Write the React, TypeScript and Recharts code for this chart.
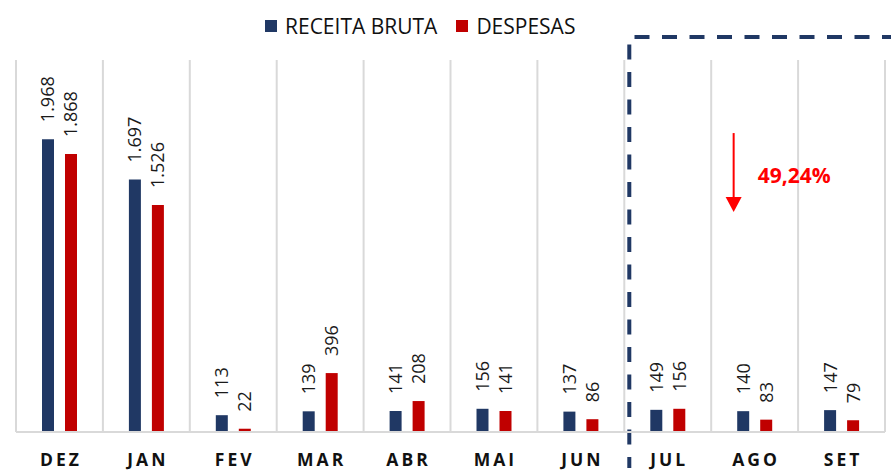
import React from 'react';
import {
  BarChart,
  Bar,
  XAxis,
  YAxis,
  CartesianGrid,
  LabelList,
  Legend,
  ReferenceArea,
  ReferenceLine,
} from 'recharts';

const months = ['DEZ', 'JAN', 'FEV', 'MAR', 'ABR', 'MAI', 'JUN', 'JUL', 'AGO', 'SET'];
const receitaBruta = [1968, 1697, 113, 139, 141, 156, 137, 149, 140, 147];
const despesas = [1868, 1526, 22, 396, 208, 141, 86, 156, 83, 79];
const seriesNames = ['RECEITA BRUTA', 'DESPESAS'];
const highlightStart = 'JUL';
const highlightEnd = 'SET';
const arrowMonth = 'AGO';
const arrowFrom = 2009;
const arrowTo = 1478;
const reductionLabel = '49,24%';

const data = months.map((m, i) => ({ month: m, receita: receitaBruta[i], despesas: despesas[i] }));

const BLUE = '#203864';
const RED = '#C00000';
const FONT = '"Open Sans", sans-serif';

const fmt = (v: number) => String(v).replace(/\B(?=(\d{3})+(?!\d))/g, '.');

const RotLabel = (props: any) => {
  const { x, y, width, value } = props;
  const cx = x + width / 2;
  const ty = y - 17;
  return (
    <text
      x={cx}
      y={ty}
      transform={`rotate(-90 ${cx} ${ty})`}
      dy="0.36em"
      fontFamily={FONT}
      fontSize={18}
      fill="#1a1a1a"
      textAnchor="start"
    >
      {fmt(value)}
    </text>
  );
};

const Tick = (props: any) => {
  const { x, y, payload } = props;
  return (
    <text
      x={x + 1.5}
      y={y + 34}
      textAnchor="middle"
      fontFamily={FONT}
      fontWeight={700}
      fontSize={17.5}
      letterSpacing={3}
      fill="#111"
    >
      {payload.value}
    </text>
  );
};

const LegendContent = () => (
  <div
    style={{
      display: 'flex',
      alignItems: 'center',
      fontFamily: FONT,
      fontSize: 21,
      color: '#111',
      lineHeight: '24px',
      whiteSpace: 'nowrap',
    }}
  >
    <span style={{ display: 'inline-block', width: 12, height: 12, background: BLUE, marginRight: 8 }} />
    <span style={{ marginRight: 19 }}>{seriesNames[0]}</span>
    <span style={{ display: 'inline-block', width: 12, height: 12, background: RED, marginRight: 8 }} />
    <span>{seriesNames[1]}</span>
  </div>
);

const BoxShape = (props: any) => {
  const { x, y, width, height } = props;
  const lx = x + 5;
  return (
    <path
      d={`M ${x + width + 12} ${y} L ${lx} ${y} L ${lx} ${y + height}`}
      fill="none"
      stroke={BLUE}
      strokeWidth={4}
      strokeDasharray="15 12.5"
    />
  );
};

const ArrowShape = (props: any) => {
  const { x1, y1, y2 } = props;
  const ax = x1 - 21;
  const head = 15;
  return (
    <g>
      <line x1={ax} y1={y1} x2={ax} y2={y2 - head} stroke="#FF0000" strokeWidth={2} />
      <path d={`M ${ax - 8} ${y2 - head} L ${ax + 8} ${y2 - head} L ${ax} ${y2} Z`} fill="#FF0000" />
      <text
        x={ax + 24}
        y={(y1 + y2) / 2 + 2}
        dominantBaseline="central"
        fontFamily={FONT}
        fontWeight={700}
        fontSize={21}
        fill="#FF0000"
      >
        {reductionLabel}
      </text>
    </g>
  );
};

export default function App() {
  return (
    <div style={{ position: 'absolute', left: 0, top: 0, background: '#fff' }}>
      <BarChart
        width={891}
        height={475}
        data={data}
        margin={{ top: 60, right: 6, bottom: 0, left: 16 }}
        barGap={11}
        barSize={12}
      >
        <CartesianGrid
          horizontal={false}
          vertical
          stroke="#D9D9D9"
          strokeWidth={2}
          verticalCoordinatesGenerator={({ offset }: any) =>
            months.map((_, i) => offset.left + (i * offset.width) / months.length).concat(offset.left + offset.width)
          }
        />
        <XAxis
          dataKey="month"
          height={43}
          interval={0}
          tickSize={0}
          tickMargin={0}
          tickLine={false}
          axisLine={{ stroke: '#D9D9D9', strokeWidth: 2 }}
          tick={<Tick />}
        />
        <YAxis hide domain={[0, 2500]} />
        <Legend
          verticalAlign="middle"
          align="center"
          layout="horizontal"
          wrapperStyle={{ top: 14, left: 265, width: 'auto' }}
          content={<LegendContent />}
        />
        <Bar dataKey="receita" name={seriesNames[0]} fill={BLUE} isAnimationActive={false}>
          <LabelList dataKey="receita" content={<RotLabel />} />
        </Bar>
        <Bar dataKey="despesas" name={seriesNames[1]} fill={RED} isAnimationActive={false}>
          <LabelList dataKey="despesas" content={<RotLabel />} />
        </Bar>
        <ReferenceArea
          x1={highlightStart}
          x2={highlightEnd}
          y1={-242}
          y2={2654}
          ifOverflow="visible"
          shape={<BoxShape />}
        />
        <ReferenceLine
          segment={[
            { x: arrowMonth, y: arrowFrom },
            { x: arrowMonth, y: arrowTo },
          ]}
          ifOverflow="visible"
          shape={<ArrowShape />}
        />
      </BarChart>
    </div>
  );
}
